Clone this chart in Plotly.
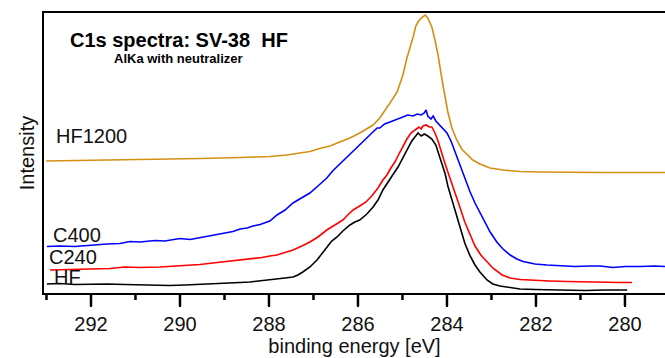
import plotly.graph_objects as go

# ---- data (binding energy in eV, intensity in arbitrary units) ----
hf1200_be = [293.01, 292.25, 291.35, 290.45, 289.55, 288.65, 287.98, 287.60, 287.31, 287.08,
             286.86, 286.63, 286.41, 286.18, 285.96, 285.66, 285.51, 285.44, 285.28, 285.12,
             284.99, 284.90, 284.83, 284.76, 284.70, 284.65, 284.58, 284.49, 284.43, 284.34,
             284.27, 284.20, 284.11, 284.05, 283.98, 283.89, 283.78, 283.67, 283.55, 283.42,
             283.26, 283.03, 282.74, 282.36, 281.91, 281.24, 280.56, 279.89, 279.10]
hf1200_int = [132, 132.5, 133, 133.5, 134.5, 135.5, 136.5, 138, 140, 141.5,
              144.5, 147, 151, 155, 160, 168, 175, 180, 190, 201,
              218, 235, 245, 256, 267, 271, 275, 278, 275, 266,
              253, 238, 213, 196, 181, 165, 153, 144, 139, 133,
              129, 125, 123, 121.5, 121, 120.5, 120.5, 120.5, 120.5]

c400_be = [292.99, 292.70, 292.36, 292.02, 291.64, 291.35, 291.12, 290.90, 290.56, 290.34,
           290.00, 289.77, 289.55, 289.39, 289.21, 288.99, 288.81, 288.65, 288.49, 288.36,
           288.20, 287.98, 287.82, 287.64, 287.46, 287.31, 287.08, 286.90, 286.70, 286.57,
           286.34, 286.18, 286.02, 285.89, 285.73, 285.57, 285.51, 285.40, 285.28, 285.12,
           284.99, 284.88, 284.76, 284.67, 284.58, 284.51, 284.47, 284.43, 284.36, 284.31,
           284.25, 284.16, 284.09, 284.00, 283.91, 283.82, 283.71, 283.60, 283.48, 283.37,
           283.26, 283.15, 283.03, 282.88, 282.74, 282.58, 282.43, 282.29, 282.02, 281.75,
           281.46, 281.12, 280.79, 280.56, 280.27, 280.00, 279.66, 279.33, 279.10]
c400_int = [46.5, 47, 46.5, 48, 49, 49.5, 51.5, 51, 52.5, 52,
            54.5, 53.5, 55.5, 56.5, 58, 60, 61.5, 64, 65, 67,
            68.5, 72, 78, 83, 90, 94, 100, 107, 115, 122,
            132, 138, 145, 151, 158, 165, 165, 169, 171, 174,
            176, 178, 177, 179, 178, 180, 183, 177, 174, 177,
            172, 168, 164, 160, 152, 141, 128, 115, 101, 90,
            81, 71, 61, 51, 44, 38, 34, 31.5, 29, 28,
            27.5, 26.5, 27, 27, 25.5, 26.5, 26.5, 27, 26.5]

c240_be = [292.92, 292.47, 292.02, 291.57, 291.24, 290.90, 290.45, 290.00, 289.77, 289.55,
           289.26, 288.94, 288.65, 288.36, 288.16, 287.98, 287.82, 287.64, 287.46, 287.26,
           287.08, 286.90, 286.70, 286.52, 286.34, 286.23, 286.11, 285.96, 285.82, 285.69,
           285.55, 285.44, 285.35, 285.26, 285.17, 285.08, 284.99, 284.90, 284.81, 284.72,
           284.63, 284.58, 284.54, 284.47, 284.40, 284.34, 284.27, 284.20, 284.13, 284.07,
           283.98, 283.89, 283.80, 283.71, 283.60, 283.48, 283.37, 283.24, 283.10, 282.97,
           282.76, 282.58, 282.36, 282.02, 281.69, 281.30, 280.90, 280.45, 280.11, 279.84]
c240_int = [23, 23.5, 24.5, 24.5, 26, 25.5, 26, 27, 28, 28.5,
            30, 31.5, 32.5, 34, 35.5, 37, 38, 40.5, 43, 47,
            51, 56, 63, 68, 73, 78, 83, 87, 91, 97,
            105, 113, 118, 125, 131, 139, 147, 154, 160, 163,
            166, 164, 167, 168, 166, 166, 160, 152, 143, 133,
            121, 110, 97, 86, 71, 58, 47, 38, 31, 25,
            18, 15, 13.5, 12.5, 12, 11.5, 11, 10.5, 10.5, 10.5]

hf_be = [292.99, 292.70, 292.36, 292.02, 291.64, 291.24, 290.90, 290.52, 290.23, 289.89,
         289.55, 289.21, 288.88, 288.65, 288.43, 288.20, 287.98, 287.82, 287.64, 287.46,
         287.35, 287.24, 287.08, 286.92, 286.81, 286.70, 286.59, 286.47, 286.34, 286.18,
         286.07, 285.96, 285.80, 285.66, 285.55, 285.44, 285.33, 285.22, 285.10, 284.99,
         284.88, 284.79, 284.72, 284.65, 284.58, 284.51, 284.43, 284.34, 284.25, 284.18,
         284.11, 284.04, 283.98, 283.89, 283.80, 283.71, 283.60, 283.48, 283.37, 283.26,
         283.10, 282.97, 282.81, 282.58, 282.36, 282.02, 281.69, 281.30, 280.90, 280.45,
         279.95]
hf_int = [9, 9.5, 8.5, 9, 9, 8.5, 8, 7.5, 7.5, 8,
          8.5, 9, 10, 10.5, 11, 12, 13, 14, 15, 16,
          18, 21, 26, 33, 39, 46, 52, 56, 62, 68,
          71, 73, 79, 86, 93, 103, 110, 118, 126, 135,
          145, 152, 156, 160, 157, 159, 157, 154, 148, 138,
          129, 119, 107, 93, 79, 65, 50, 37, 28, 21,
          13, 9, 7, 5.5, 4, 3.5, 3, 2.5, 2.5, 3,
          3]

series_names = ["HF1200", "C400", "C240", "HF"]
series_colors = ["#D38F14", "#0000FF", "#FF0000", "#000000"]
x_ticks = [280, 282, 284, 286, 288, 290, 292]
x_minor_ticks = [281, 283, 285, 287, 289, 291, 293]

title_text = "C1s spectra: SV-38\u00a0 HF"
subtitle_text = "AlKa with neutralizer"
x_title = "binding energy [eV]"
y_title = "Intensity"

FONT = "Liberation Sans, Arial, sans-serif"
X_RANGE = [293.056, 279.1]

fig = go.Figure()
for name, xs, ys, col in zip(series_names,
                             [hf1200_be, c400_be, c240_be, hf_be],
                             [hf1200_int, c400_int, c240_int, hf_int],
                             series_colors):
    fig.add_trace(go.Scatter(x=xs, y=ys, mode="lines", name=name,
                             line=dict(color=col, width=1.6), showlegend=False))

W, H = 665, 358
L, R, T, B = 44, 0, 13, 65
pw, ph = W - L - R, H - T - B

def px(xp):
    return (xp - L) / pw

def py(yp):
    return (H - B - yp) / ph

def xfrac(v):
    # position of axis value v as a fraction of the (reversed) x axis
    return (X_RANGE[0] - v) / (X_RANGE[0] - X_RANGE[1])

annotations = [
    dict(text="<b>" + title_text + "</b>", x=px(179), y=py(40), xref="paper", yref="paper",
         showarrow=False, xanchor="center", yanchor="middle", font=dict(size=20, color="black", family=FONT)),
    dict(text="<b>" + subtitle_text + "</b>", x=px(178), y=py(59), xref="paper", yref="paper",
         showarrow=False, xanchor="center", yanchor="middle", font=dict(size=13, color="black", family=FONT)),
]
label_pos = {"HF1200": (54, 136), "C400": (51, 235), "C240": (47, 257), "HF": (52, 277)}
for name in series_names:
    lx, ly = label_pos[name]
    annotations.append(dict(text=name, x=px(lx), y=py(ly), xref="paper", yref="paper",
                            showarrow=False, xanchor="left", yanchor="middle",
                            font=dict(size=20, color="#111111", family=FONT)))

# tick marks below the x axis (major 12 px, minor 6 px)
shapes = []
for v in x_ticks:
    shapes.append(dict(type="line", xref="paper", yref="paper", x0=xfrac(v), x1=xfrac(v),
                       y0=-1 / ph, y1=-13 / ph, line=dict(color="#000000", width=2.5), layer="above"))
for v in x_minor_ticks:
    shapes.append(dict(type="line", xref="paper", yref="paper", x0=xfrac(v), x1=xfrac(v),
                       y0=-1 / ph, y1=-7 / ph, line=dict(color="#000000", width=2.5), layer="above"))

fig.update_layout(
    width=W, height=H,
    margin=dict(l=L, r=R, t=T, b=B),
    paper_bgcolor="white", plot_bgcolor="white",
    font=dict(family=FONT, size=20, color="#111111"),
    annotations=annotations,
    shapes=shapes,
    xaxis=dict(range=X_RANGE, tickmode="array", tickvals=x_ticks,
               ticks="outside", ticklen=12, tickwidth=2, tickcolor="#000000",
               showline=True, linecolor="black", linewidth=2, mirror=True,
               showgrid=False, zeroline=False, tickfont=dict(size=20, family=FONT, color="#111111"),
               title=dict(text=x_title, font=dict(size=20, family=FONT, color="#111111"), standoff=4)),
    yaxis=dict(range=[0, 280], showticklabels=False, ticks="", showline=True, linecolor="black", linewidth=2,
               showgrid=False, zeroline=False,
               title=dict(text=y_title, font=dict(size=20, family=FONT, color="#111111"), standoff=2)),
)

fig.write_html("out.html")
